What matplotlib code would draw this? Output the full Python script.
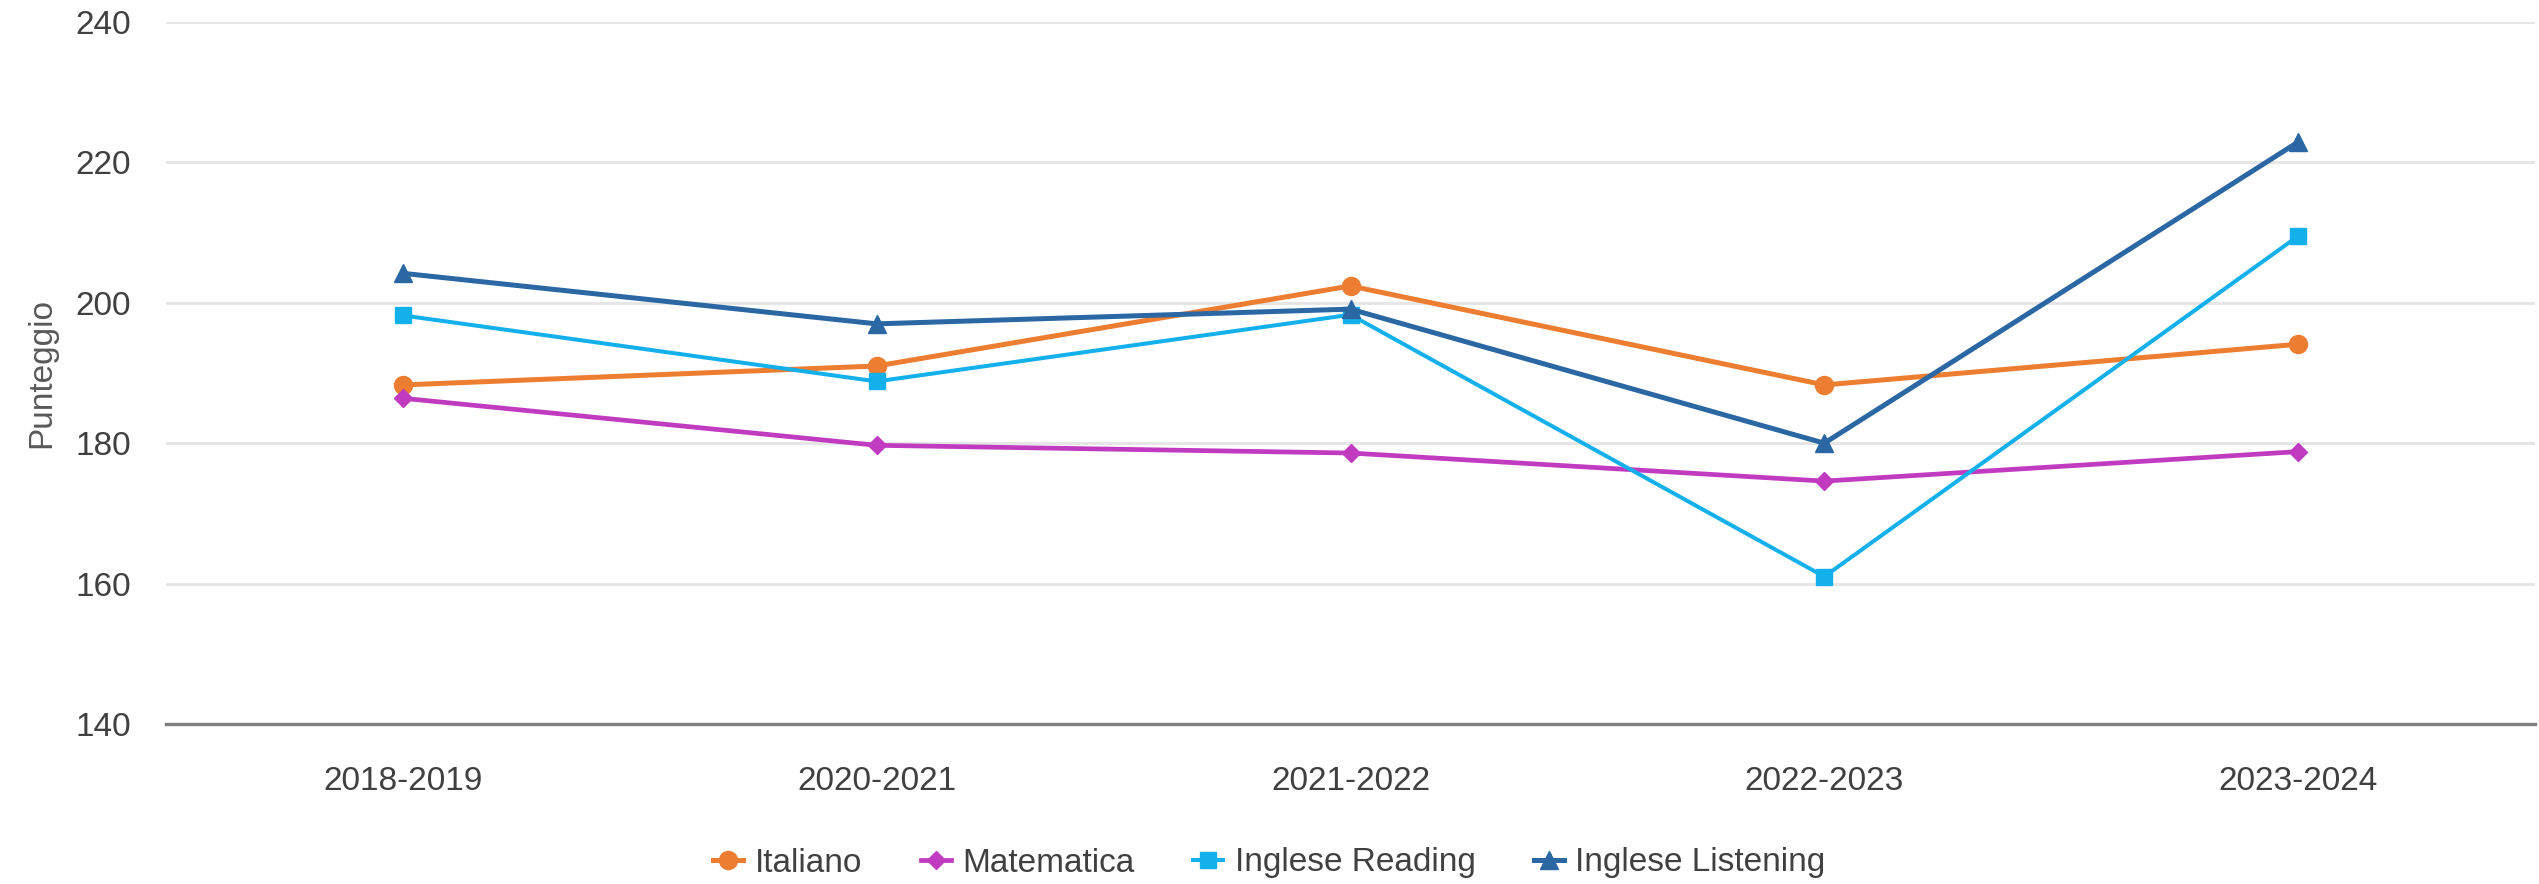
from matplotlib import pyplot as plt
import numpy as np

years = ["2018-2019", "2020-2021", "2021-2022", "2022-2023", "2023-2024"]
italiano = [188.3, 191.0, 202.4, 188.3, 194.1]
matematica = [186.4, 179.7, 178.6, 174.6, 178.8]
ing_reading = [198.2, 188.8, 198.3, 161.0, 209.5]
ing_listening = [204.2, 197.0, 199.1, 180.0, 222.9]

series = [
    ("Italiano", italiano, "#ED7D31", "o", 3.6, 13),
    ("Matematica", matematica, "#C03BC0", "D", 3.4, 9),
    ("Inglese Reading", ing_reading, "#14B0EC", "s", 2.9, 12),
    ("Inglese Listening", ing_listening, "#2A67A3", "^", 3.6, 13),
]

plt.rcParams['font.family'] = ['Liberation Sans', 'DejaVu Sans']

fig = plt.figure(figsize=(25.39, 8.84), dpi=100)
ax = fig.add_axes([166 / 2539, 1 - 724 / 884, (2535 - 166) / 2539, (724 - 22) / 884])

x = np.arange(len(years))
for name, vals, col, mk, lw, ms in series:
    ax.plot(x, vals, color=col, marker=mk, lw=lw, markersize=ms, label=name, zorder=3)

ax.set_xlim(-0.5, len(years) - 0.5)
ax.set_ylim(140, 240)
ax.set_yticks(range(140, 241, 20))
ax.set_xticks(x)
ax.set_xticklabels(years)
ax.grid(True, axis='y', color='#E6E6E6', lw=2.2)
ax.set_axisbelow(True)

for s in ['top', 'right', 'left']:
    ax.spines[s].set_visible(False)
ax.spines['bottom'].set_color('#7F7F7F')
ax.spines['bottom'].set_linewidth(2.4)

ax.tick_params(axis='y', length=0, pad=25, labelsize=24, labelcolor='#404040')
ax.tick_params(axis='x', length=0, pad=30, labelsize=24, labelcolor='#404040')

ax.set_ylabel("Punteggio", fontsize=24, color='#595959')
ax.yaxis.set_label_coords(-(166 - 57) / (2535 - 166), 0.5)

fig.legend(loc='center', bbox_to_anchor=(0.5, 1 - 863 / 884), ncol=4, frameon=False,
           fontsize=24, handlelength=0.9, columnspacing=1.75, handletextpad=0.35,
           labelcolor='#404040')

fig.savefig("out.png", dpi=100)
